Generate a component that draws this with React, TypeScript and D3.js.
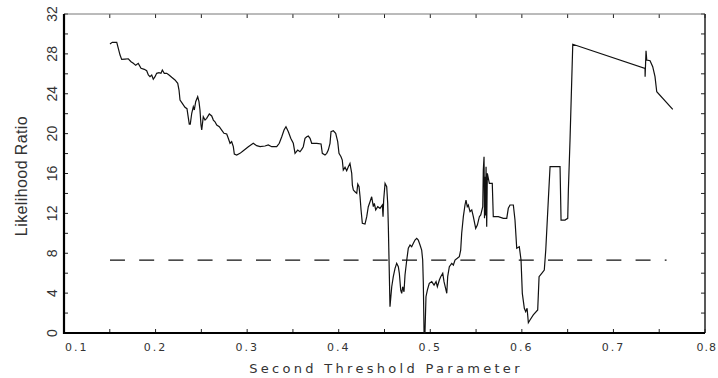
import { useEffect, useRef } from 'react';
import * as d3 from 'd3';

// second threshold parameter (x) and likelihood ratio (y)
const thresholdParam = [
  0.1502, 0.1527, 0.1576, 0.1593, 0.1612, 0.1630, 0.1666, 0.1702, 0.1732, 0.1757,
  0.1783, 0.1811, 0.1841, 0.1877, 0.1903, 0.1921, 0.1939, 0.1958, 0.1975, 0.1994,
  0.2012, 0.2037, 0.2059, 0.2074, 0.2095, 0.2122, 0.2147, 0.2176, 0.2212, 0.2242,
  0.2256, 0.2267, 0.2292, 0.2321, 0.2343, 0.2357, 0.2368, 0.2379, 0.2395, 0.2412,
  0.2423, 0.2438, 0.2460, 0.2474, 0.2485, 0.2496, 0.2504, 0.2521, 0.2540, 0.2558,
  0.2587, 0.2613, 0.2631, 0.2649, 0.2668, 0.2696, 0.2722, 0.2747, 0.2777, 0.2794,
  0.2813, 0.2831, 0.2849, 0.2860, 0.2886, 0.2922, 0.2958, 0.3013, 0.3067, 0.3104,
  0.3141, 0.3195, 0.3231, 0.3268, 0.3323, 0.3351, 0.3378, 0.3403, 0.3424, 0.3450,
  0.3476, 0.3504, 0.3523, 0.3552, 0.3577, 0.3596, 0.3613, 0.3632, 0.3651, 0.3668,
  0.3687, 0.3705, 0.3760, 0.3807, 0.3821, 0.3850, 0.3869, 0.3886, 0.3905, 0.3916,
  0.3941, 0.3967, 0.3989, 0.4003, 0.4025, 0.4039, 0.4050, 0.4069, 0.4087, 0.4105,
  0.4123, 0.4142, 0.4149, 0.4160, 0.4178, 0.4197, 0.4208, 0.4222, 0.4233, 0.4244,
  0.4258, 0.4287, 0.4306, 0.4323, 0.4342, 0.4360, 0.4378, 0.4389, 0.4404, 0.4426,
  0.4451, 0.4476, 0.4484, 0.4491, 0.4506, 0.4524, 0.4535, 0.4542, 0.4560, 0.4579,
  0.4596, 0.4615, 0.4633, 0.4651, 0.4662, 0.4677, 0.4688, 0.4699, 0.4713, 0.4724,
  0.4743, 0.4760, 0.4779, 0.4797, 0.4815, 0.4833, 0.4852, 0.4869, 0.4888, 0.4906,
  0.4917, 0.4924, 0.4932, 0.4942, 0.4953, 0.4968, 0.4989, 0.5016, 0.5041, 0.5063,
  0.5077, 0.5099, 0.5114, 0.5136, 0.5150, 0.5180, 0.5190, 0.5208, 0.5234, 0.5252,
  0.5270, 0.5295, 0.5317, 0.5332, 0.5343, 0.5361, 0.5379, 0.5390, 0.5404, 0.5415,
  0.5434, 0.5453, 0.5470, 0.5496, 0.5514, 0.5536, 0.5551, 0.5573, 0.5579, 0.5587,
  0.5592, 0.5598, 0.5603, 0.5609, 0.5616, 0.5623,
  0.5645, 0.5660, 0.5677, 0.5688, 0.5743, 0.5798, 0.5835, 0.5852, 0.5871, 0.5907,
  0.5925, 0.5944, 0.5972, 0.5991, 0.6005, 0.6027, 0.6042, 0.6057, 0.6071, 0.6089,
  0.6125, 0.6173, 0.6188, 0.6217, 0.6245, 0.6261, 0.6289, 0.6308, 0.6417, 0.6428,
  0.6471, 0.6501, 0.6508, 0.6526, 0.6556, 0.7345, 0.7346, 0.7356, 0.7364, 0.7400,
  0.7429, 0.7454, 0.7473, 0.7648,
];

const likelihoodRatio = [
  29.0, 29.16, 29.16, 28.56, 27.88, 27.45, 27.48, 27.51, 27.21, 27.05,
  26.85, 27.05, 26.55, 26.45, 26.31, 25.88, 25.71, 25.88, 25.45, 25.71,
  26.05, 26.11, 26.05, 26.38, 26.05, 26.05, 25.88, 25.65, 25.38, 25.04,
  24.37, 23.37, 23.04, 22.64, 22.50, 21.63, 20.96, 20.96, 22.04, 22.70,
  22.37, 23.20, 23.70, 23.20, 22.37, 20.86, 20.36, 21.70, 21.36, 21.53,
  21.97, 21.77, 21.36, 21.19, 20.86, 20.69, 20.36, 20.03, 19.96, 19.53,
  19.03, 19.19, 18.69, 17.95, 17.85, 18.02, 18.28, 18.69, 19.03, 18.79,
  18.69, 18.76, 18.86, 18.69, 18.69, 19.03, 19.69, 20.36, 20.69, 20.19,
  19.53, 19.03, 18.02, 18.35, 18.18, 18.42, 18.69, 19.53, 19.69, 19.76,
  19.53, 19.03, 19.03, 18.96, 18.02, 17.85, 18.02, 18.35, 19.03, 20.19,
  20.29, 20.03, 19.19, 18.02, 17.68, 17.35, 16.35, 16.62, 16.28, 16.68,
  17.02, 16.02, 14.84, 14.34, 14.17, 14.01, 14.94, 14.67, 13.67, 12.34,
  11.00, 10.93, 11.67, 12.67, 13.17, 13.67, 12.67, 13.01, 12.34, 12.67,
  12.51, 12.84, 11.67, 13.34, 15.01, 14.67, 13.01, 10.66, 2.64, 4.64,
  5.65, 6.49, 6.99, 6.65, 5.99, 4.31, 3.98, 4.64, 4.14, 5.82,
  7.32, 8.50, 8.83, 8.66, 9.00, 9.33, 9.50, 9.33, 8.83, 8.32,
  7.32, 4.98, 0.0, 0.0, 3.64, 4.31, 4.98, 5.15, 4.81, 5.15,
  4.64, 5.32, 5.65, 5.99, 5.15, 3.98, 5.65, 6.65, 6.99, 6.82,
  7.32, 7.49, 7.65, 8.32, 10.00, 11.67, 12.84, 13.34, 12.67, 12.84,
  12.17, 12.34, 11.67, 10.50, 10.83, 11.67, 11.84, 12.67, 16.35, 17.68,
  11.5, 15.68, 11.8, 16.68, 10.66, 16.02,
  15.01, 15.01, 15.01, 11.67, 11.67, 11.50, 11.50, 12.51, 12.84, 12.84,
  11.33, 8.50, 8.66, 7.32, 3.98, 2.48, 2.14, 2.48, 1.03, 1.30,
  1.81, 2.31, 5.65, 5.99, 6.32, 8.32, 13.34, 16.68, 16.68, 11.33,
  11.33, 11.50, 14.34, 19.36, 28.96, 26.55, 25.71, 28.30, 27.38, 27.31,
  26.71, 25.71, 24.20, 22.44,
];

// critical value (dashed) and its x extent
const criticalValue = 7.32;
const criticalRange = [0.1502, 0.758];

const xTickLabels = [0.1, 0.2, 0.3, 0.4, 0.5, 0.6, 0.7, 0.8];
const yTickLabels = [0, 4, 8, 12, 16, 20, 24, 28, 32];

export default function App() {
  const svgRef = useRef<SVGSVGElement>(null);

  useEffect(() => {
    if (!svgRef.current) return;
    const svg = d3.select(svgRef.current);
    svg.selectAll('*').remove();

    const W = 718, H = 378;
    const margin = { top: 14, right: 13, bottom: 45, left: 64 };
    svg.attr('width', W).attr('height', H);

    const x = d3.scaleLinear().domain([0.1, 0.8]).range([margin.left, W - margin.right]);
    const y = d3.scaleLinear().domain([0, 32]).range([H - margin.bottom, margin.top]);

    const [x0, x1] = x.range();
    const [y0, y1] = y.range();

    svg.append('rect').attr('width', W).attr('height', H).attr('fill', '#fff');

    // minor ticks, all four sides, pointing inward
    const xMinor = d3.range(0.1, 0.8001, 0.05);
    const yMinor = d3.range(0, 32.001, 2);
    const tk = 4;
    const ticks = svg.append('g').attr('stroke', '#222').attr('stroke-width', 1);
    xMinor.forEach(v => {
      ticks.append('line').attr('x1', x(v)).attr('x2', x(v)).attr('y1', y0).attr('y2', y0 - tk);
      ticks.append('line').attr('x1', x(v)).attr('x2', x(v)).attr('y1', y1).attr('y2', y1 + tk);
    });
    yMinor.forEach(v => {
      ticks.append('line').attr('x1', x0).attr('x2', x0 + tk).attr('y1', y(v)).attr('y2', y(v));
      ticks.append('line').attr('x1', x1).attr('x2', x1 - tk).attr('y1', y(v)).attr('y2', y(v));
    });

    // frame
    svg.append('line').attr('x1', x0).attr('x2', x1).attr('y1', y1).attr('y2', y1)
      .attr('stroke', '#777').attr('stroke-width', 1);
    svg.append('line').attr('x1', x1).attr('x2', x1).attr('y1', y1).attr('y2', y0)
      .attr('stroke', '#222').attr('stroke-width', 1.5);
    svg.append('line').attr('x1', x0).attr('x2', x0).attr('y1', y1).attr('y2', y0 + 1)
      .attr('stroke', '#000').attr('stroke-width', 2.2);
    svg.append('line').attr('x1', x0 - 1).attr('x2', x1).attr('y1', y0).attr('y2', y0)
      .attr('stroke', '#000').attr('stroke-width', 2.2);

    // dashed critical value line
    svg.append('line')
      .attr('x1', x(criticalRange[0])).attr('x2', x(criticalRange[1]))
      .attr('y1', y(criticalValue)).attr('y2', y(criticalValue))
      .attr('stroke', '#111').attr('stroke-width', 1.3)
      .attr('stroke-dasharray', '15 14.2');

    // likelihood ratio curve
    const pts: [number, number][] = thresholdParam.map((t, i) => [t, likelihoodRatio[i]]);
    const line = d3.line<[number, number]>().x(d => x(d[0])).y(d => y(d[1]));
    svg.append('path').datum(pts)
      .attr('d', line)
      .attr('fill', 'none')
      .attr('stroke', '#111')
      .attr('stroke-width', 1.2)
      .attr('stroke-linejoin', 'miter');

    // x tick labels (first and last pushed inside the page)
    const last = xTickLabels.length - 1;
    svg.append('g').selectAll('text')
      .data(xTickLabels)
      .enter().append('text')
      .attr('x', (d, i) => i === 0 ? x(d) + 1 : i === last ? W - 1 : x(d))
      .attr('y', y0 + 18)
      .attr('text-anchor', (d, i) => i === 0 ? 'start' : i === last ? 'end' : 'middle')
      .attr('font-family', 'DejaVu Sans, sans-serif')
      .attr('font-size', '11px')
      .attr('letter-spacing', (d, i) => i === last ? '1px' : '2px')
      .attr('fill', '#333')
      .text(d => d3.format('.1f')(d));

    // y tick labels, rotated
    svg.append('g').selectAll('text')
      .data(yTickLabels)
      .enter().append('text')
      .attr('transform', d => `translate(57,${y(d)}) rotate(-90)`)
      .attr('text-anchor', 'middle')
      .attr('font-family', 'Liberation Sans Narrow, Liberation Sans, sans-serif')
      .attr('font-size', '14px')
      .attr('fill', '#333')
      .text(d => String(d));

    // axis titles
    svg.append('text')
      .attr('x', 386).attr('y', 373)
      .attr('text-anchor', 'middle')
      .attr('font-family', 'DejaVu Sans, sans-serif')
      .attr('font-size', '13px')
      .attr('letter-spacing', '3.3px')
      .attr('fill', '#333')
      .text('Second Threshold Parameter');

    svg.append('text')
      .attr('transform', `translate(27,176) rotate(-90)`)
      .attr('text-anchor', 'middle')
      .attr('font-family', 'Liberation Sans, Arial, sans-serif')
      .attr('font-size', '16px')
      .attr('letter-spacing', '0.4px')
      .attr('fill', '#333')
      .text('Likelihood Ratio');
  }, []);

  return (
    <svg ref={svgRef} style={{ position: 'absolute', left: 0, top: 0, display: 'block' }} />
  );
}
